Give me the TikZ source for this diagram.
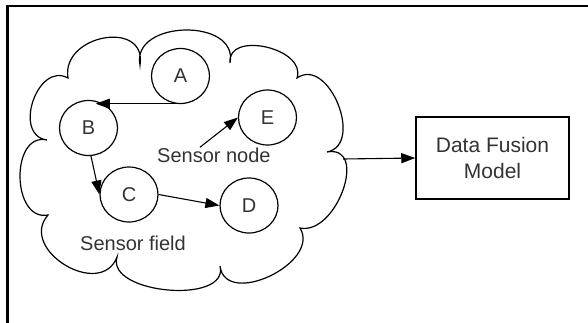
\documentclass[tikz,border=0pt]{standalone}
\usepackage{fontspec}
\setmainfont{Liberation Sans}
\usetikzlibrary{shapes.geometric,arrows.meta,calc}
\begin{document}
\begin{tikzpicture}[x=1pt,y=-1pt,
  sensor/.style={ellipse,draw,line width=1.2pt,minimum width=58pt,minimum height=55pt,inner sep=0pt,font=\fontsize{20}{24}\selectfont,text=black!80},
  arr/.style={line width=1.1pt,-{Triangle[length=14pt,width=10pt]}},
  lbl/.style={inner sep=0pt,font=\fontsize{20}{24}\selectfont,text=black!80},
  framel/.style={line width=2.8pt,line join=miter},
  cloudline/.style={line width=1.2pt},
  boxst/.style={draw,line width=1.5pt,minimum width=153pt,minimum height=82pt,align=center,font=\fontsize{21}{26}\selectfont,text=black!80}]
\useasboundingbox (0,0) rectangle (588,322);
\draw[framel] (7.3,324) -- (7.3,6) -- (590,6);
% cloud cusps and bump peaks
\coordinate (P1) at (47,140);  \coordinate (M1) at (33,101);
\coordinate (P2) at (68,78);   \coordinate (M2) at (104,38);
\coordinate (P3) at (140,65);  \coordinate (M3) at (185,30);
\coordinate (P4) at (230,63);  \coordinate (M4) at (266,47);
\coordinate (P5) at (297,78);  \coordinate (M5) at (338,104);
\coordinate (P6) at (327,152); \coordinate (M6) at (343,190);
\coordinate (P7) at (300,228); \coordinate (M7) at (270,276);
\coordinate (P8) at (220,266); \coordinate (M8) at (168,290);
\coordinate (P9) at (117,257); \coordinate (M9) at (65,265);
\coordinate (P10) at (48,215); \coordinate (M10) at (20,177);
\draw[cloudline] (P1)
 .. controls ($0.4333*(P1)+1.3333*(M1)-0.7667*(P2)$) and ($0.4333*(P2)+1.3333*(M1)-0.7667*(P1)$) .. (P2)
 .. controls ($0.4333*(P2)+1.3333*(M2)-0.7667*(P3)$) and ($0.4333*(P3)+1.3333*(M2)-0.7667*(P2)$) .. (P3)
 .. controls ($0.4333*(P3)+1.3333*(M3)-0.7667*(P4)$) and ($0.4333*(P4)+1.3333*(M3)-0.7667*(P3)$) .. (P4)
 .. controls ($0.4333*(P4)+1.3333*(M4)-0.7667*(P5)$) and ($0.4333*(P5)+1.3333*(M4)-0.7667*(P4)$) .. (P5)
 .. controls ($0.4333*(P5)+1.3333*(M5)-0.7667*(P6)$) and ($0.4333*(P6)+1.3333*(M5)-0.7667*(P5)$) .. (P6)
 .. controls ($0.4333*(P6)+1.3333*(M6)-0.7667*(P7)$) and ($0.4333*(P7)+1.3333*(M6)-0.7667*(P6)$) .. (P7)
 .. controls ($0.4333*(P7)+1.3333*(M7)-0.7667*(P8)$) and ($0.4333*(P8)+1.3333*(M7)-0.7667*(P7)$) .. (P8)
 .. controls ($0.4333*(P8)+1.3333*(M8)-0.7667*(P9)$) and ($0.4333*(P9)+1.3333*(M8)-0.7667*(P8)$) .. (P9)
 .. controls ($0.4333*(P9)+1.3333*(M9)-0.7667*(P10)$) and ($0.4333*(P10)+1.3333*(M9)-0.7667*(P9)$) .. (P10)
 .. controls ($0.4333*(P10)+1.3333*(M10)-0.7667*(P1)$) and ($0.4333*(P1)+1.3333*(M10)-0.7667*(P10)$) .. (P1);
% sensor nodes
\node[sensor] (A) at (180.5,76) {A};
\node[sensor] (B) at (88.5,128) {B};
\node[sensor] (C) at (129,194.5) {C};
\node[sensor] (D) at (249,205.5) {D};
\node[sensor] (E) at (267.5,117.5) {E};
% labels
\node[lbl,anchor=base west] (sn) at (157,162) {Sensor node};
\node[lbl,anchor=base west] (sf) at (80,250) {Sensor field};
% box
\node[boxst] (dfm) at (492.5,158) {Data Fusion\\Model};
\coordinate (cloudE) at (343,159);
% connectors
\draw[arr] (A.-80) -- (A.-80 -| B.75);
\draw[arr] (B.-85) -- (C.west);
\draw[arr] (C.east) -- (D.west);
\draw[arr] ([xshift=-14pt]sn.north) -- (E.west);
\draw[arr] (cloudE) -- (dfm.west);
\end{tikzpicture}
\end{document}
